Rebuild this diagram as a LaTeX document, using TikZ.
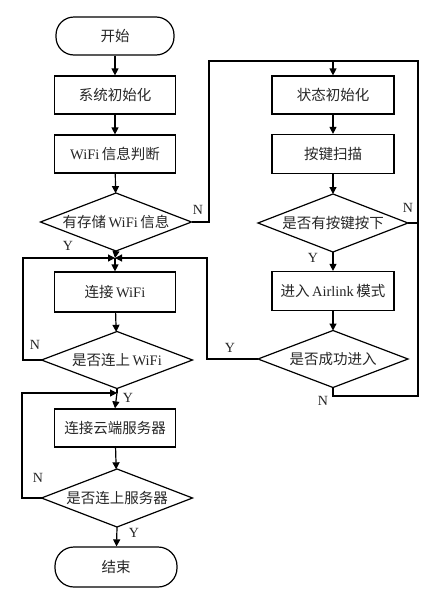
\documentclass[tikz,border=0pt]{standalone}
\usepackage{fontspec}
\setmainfont{Liberation Serif}
\newfontfamily\cjk{Noto Sans CJK SC}
\usetikzlibrary{shapes.geometric,arrows.meta}
\newcommand{\zh}[1]{{\cjk #1}}
\begin{document}
\begin{tikzpicture}[x=1pt,y=-1pt,
  every node/.style={font=\fontsize{14.5}{16}\selectfont, text=black!85},
  box/.style={draw, line width=1.2pt, minimum width=121pt, minimum height=38pt, inner sep=0pt},
  term/.style={draw, line width=1.2pt, rounded corners=18pt, minimum width=118pt, minimum height=38pt, inner sep=0pt},
  dia/.style={draw, diamond, line width=1.2pt, minimum width=151pt, minimum height=58pt, inner sep=0pt, outer sep=0pt},
  yn/.style={font=\fontsize{14}{16}\selectfont},
  line/.style={line width=1.2pt},
  arr/.style={line width=1.2pt, -{Triangle[length=7pt,width=7pt]}}
]
\useasboundingbox[fill=white] (0,0) rectangle (436,600);
% left column
\node[term] (start) at (115,36) {\zh{开始}};
\node[box] (b1) at (115,95) {\zh{系统初始化}};
\node[box] (b2) at (115,154) {WiFi\,\zh{信息判断}};
\node[dia] (d1) at (116,222) {\makebox[0pt]{\zh{有存储}\,WiFi\,\zh{信息}}};
\node[box, minimum height=40pt] (b3) at (115,292) {\zh{连接}\,WiFi};
\node[dia, minimum height=57pt] (d2) at (117,360) {\makebox[0pt]{\zh{是否连上}\,WiFi}};
\node[box] (b4) at (115,428) {\zh{连接云端服务器}};
\node[dia] (d3) at (117,498) {\makebox[0pt]{\zh{是否连上服务器}}};
\node[term, minimum width=122pt, minimum height=40pt, rounded corners=19pt] (end) at (116,567) {\zh{结束}};
% right column
\node[box, minimum width=122pt] (r1) at (333,95) {\zh{状态初始化}};
\node[box, minimum width=122pt, minimum height=39pt] (r2) at (333,154) {\zh{按键扫描}};
\node[dia, minimum width=150pt] (rd1) at (333,223) {\makebox[0pt]{\zh{是否有按键按下}}};
\node[box, minimum width=122pt, minimum height=39pt] (r3) at (333,291) {\zh{进入}\,Airlink\,\zh{模式}};
\node[dia, minimum width=150pt, minimum height=57pt] (rd2) at (333,359) {\makebox[0pt]{\zh{是否成功进入}}};
% junctions
\coordinate (j1) at (115,258);
\coordinate (j2) at (117,393);
\coordinate (t1) at (333,61);
% straight arrows
\draw[arr] (start) -- (b1);
\draw[arr] (b1) -- (b2);
\draw[arr] (b2) -- (d1);
\draw[arr] (d1.south) -- (j1);
\draw[arr] (j1) -- (b3.north);
\draw[arr] (b3) -- (d2);
\draw[line] (d2.south) -- (j2);
\draw[arr] (j2) -- (b4.north);
\draw[arr] (b4) -- (d3);
\draw[arr] (d3.south) -- (end);
\draw[arr] (r1) -- (r2);
\draw[arr] (r2) -- (rd1);
\draw[arr] (rd1.south) -- (r3);
\draw[arr] (r3) -- (rd2);
% loops
\draw[arr] (d2.west) -- (23,360) -- (23,258) -- (j1);
\draw[arr] (d3.west) -- (22,498) -- (22,393) -- (j2);
\draw[line] (d1.east) -- (209,222) -- (209,61) -- (t1);
\draw[arr] (t1) -- (r1.north);
\draw[line] (rd1.east) -- (418,223) -- (418,61) -- (t1);
\draw[line] (rd2.south) -- (333,396) -- (418,396) -- (418,223);
\draw[arr] (rd2.west) -- (207,359) -- (207,258) -- (j1);
% labels
\node[yn] (l1) at (198,210) {N};
\node[yn] (l2) at (68,246) {Y};
\node[yn] (l3) at (408,208) {N};
\node[yn] (l4) at (313,258) {Y};
\node[yn] (l5) at (230,348) {Y};
\node[yn] (l6) at (323,401) {N};
\node[yn] (l7) at (35,345) {N};
\node[yn] (l8) at (128,398) {Y};
\node[yn] (l9) at (38,478) {N};
\node[yn] (l10) at (134,533) {Y};
\end{tikzpicture}
\end{document}
